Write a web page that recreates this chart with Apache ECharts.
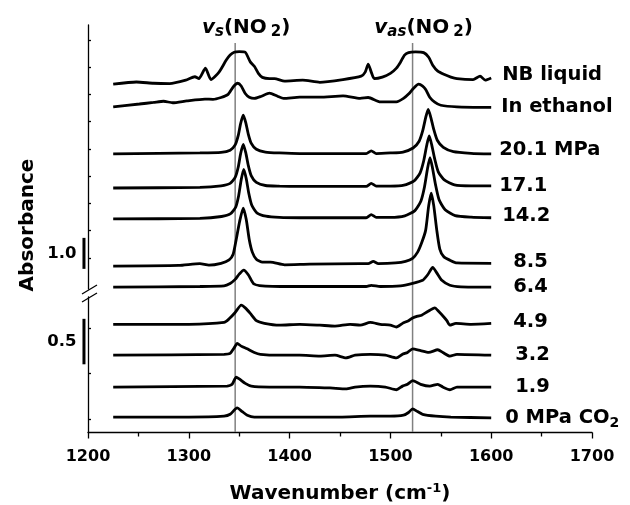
<!DOCTYPE html>
<html><head><meta charset="utf-8">
<script src="https://cdn.jsdelivr.net/npm/echarts@6/dist/echarts.min.js"></script>
<style>html,body{margin:0;padding:0;background:#fff}#c{width:630px;height:505px}</style>
</head><body><div id="c"></div>
<script>
// ---------- DATA ----------
const spectrumNames = ['NB liquid','In ethanol','20.1 MPa','17.1','14.2','8.5','6.4','4.9','3.2','1.9','0 MPa CO2'];
// vertical offsets (absorbance) of each trace in its panel
const offsets = [6.61, 5.87, 4.35, 3.26, 2.26, 0.74, 0.06, 1.19, 0.85, 0.50, 0.17];
// 0 = upper (compressed) panel, 1 = lower (expanded) panel
const panelOf = [0,0,0,0,0,0,0,1,1,1,1];
const bandPositions = [1346, 1522];
const xTickValues = [1200, 1300, 1400, 1500, 1600, 1700];
const upperTicks = [1.00,1.88,2.76,3.64,4.52,5.40,6.28,7.16,8.04];
const lowerTicks = [0.15,0.65,1.15];
const upperScaleBar = [0.65, 1.65]; // 1.0 absorbance
const lowerScaleBar = [0.75, 1.25]; // 0.5 absorbance

const nbLiquid = [[1225,0.00],[1248,0.07],[1265,0.03],[1281,0.02],[1297,0.13],[1306,0.24],[1310,0.18],[1316.5,0.52],[1322,0.15],[1330,0.39],[1337,0.77],[1341,0.94],[1345,1.03],[1350,1.05],[1356,1.03],[1361,0.72],[1365,0.58],[1369,0.35],[1373,0.22],[1380,0.18],[1385,0.18],[1395,0.10],[1413,0.13],[1430,0.06],[1453,0.15],[1471,0.26],[1475,0.39],[1478,0.65],[1481,0.39],[1484,0.18],[1492,0.23],[1500,0.35],[1506,0.52],[1510,0.71],[1514,0.94],[1518,1.02],[1525,1.04],[1533,1.02],[1538,0.87],[1542,0.61],[1547,0.42],[1553,0.32],[1560,0.23],[1566,0.18],[1582,0.15],[1589,0.26],[1594,0.13],[1600,0.20]];
const inEthanol = [[1225,0.01],[1251,0.10],[1265,0.15],[1275,0.19],[1284,0.14],[1298,0.20],[1316,0.26],[1324,0.25],[1332,0.31],[1339,0.41],[1344,0.65],[1348.5,0.77],[1352,0.68],[1356,0.44],[1360,0.32],[1365,0.28],[1372,0.35],[1380,0.45],[1388,0.35],[1394,0.28],[1410,0.32],[1430,0.32],[1453,0.36],[1470,0.28],[1478,0.31],[1490,0.17],[1506,0.17],[1513,0.28],[1518,0.42],[1523,0.61],[1528,0.74],[1532,0.68],[1535,0.57],[1539,0.32],[1544,0.16],[1550,0.06],[1566,0.01],[1600,-0.01]];
const p201 = [[1225,0.01],[1311,0.04],[1332,0.06],[1341,0.13],[1346,0.30],[1349,0.60],[1351.5,1.00],[1354,1.26],[1356.5,1.02],[1359,0.65],[1362,0.35],[1367,0.16],[1376,0.07],[1390,0.04],[1410,0.02],[1476,0.02],[1481,0.11],[1486,0.02],[1500,0.04],[1512.5,0.07],[1522.5,0.20],[1528.5,0.42],[1532,0.75],[1535,1.18],[1537.5,1.45],[1540,1.20],[1543,0.80],[1546.5,0.45],[1552.5,0.22],[1562.5,0.08],[1580,0.03],[1600,0.01]];
const p171 = [[1225,0.00],[1311,0.02],[1332,0.07],[1341,0.15],[1346,0.34],[1349,0.67],[1351.5,1.12],[1354,1.41],[1356.5,1.14],[1359,0.73],[1362,0.39],[1367,0.18],[1376,0.08],[1390,0.06],[1410,0.05],[1476,0.05],[1481,0.15],[1486,0.06],[1500,0.06],[1513.5,0.09],[1523.5,0.23],[1529.5,0.49],[1533,0.87],[1536,1.37],[1538.5,1.68],[1541,1.39],[1544,0.93],[1547.5,0.52],[1553.5,0.26],[1563.5,0.10],[1580,0.07],[1600,0.07]];
const p142 = [[1225,0.00],[1311,0.02],[1332.5,0.08],[1341.5,0.17],[1346.5,0.38],[1349.5,0.76],[1352,1.27],[1354.5,1.60],[1357,1.30],[1359.5,0.83],[1362.5,0.44],[1367.5,0.20],[1376.5,0.09],[1390,0.05],[1410,0.04],[1476,0.04],[1481,0.14],[1486,0.05],[1500,0.05],[1514.3,0.10],[1524.3,0.27],[1530.3,0.58],[1533.8,1.03],[1536.8,1.62],[1539.3,1.98],[1541.8,1.64],[1544.8,1.10],[1548.3,0.62],[1554.3,0.30],[1564.3,0.11],[1580,0.06],[1600,0.04]];
const p85 = [[1225,0.00],[1290,0.02],[1311,0.08],[1320,0.03],[1332,0.09],[1340,0.20],[1344,0.38],[1347,0.85],[1350.5,1.45],[1354,1.87],[1357,1.50],[1360,0.85],[1363,0.45],[1367,0.22],[1373,0.13],[1381,0.13],[1395,0.04],[1420,0.06],[1470,0.08],[1478,0.08],[1483,0.15],[1488,0.08],[1505,0.10],[1515,0.15],[1522,0.25],[1527,0.45],[1531,0.75],[1535,1.16],[1538,1.95],[1540.5,2.35],[1543,1.95],[1546,1.16],[1549,0.55],[1553,0.30],[1559,0.19],[1566,0.10],[1600,0.09]];
const p64 = [[1225,0.00],[1311,0.02],[1335,0.04],[1341,0.12],[1346,0.25],[1350,0.42],[1354.5,0.55],[1359,0.40],[1364,0.12],[1370,0.05],[1400,0.02],[1476,0.02],[1481,0.06],[1490,0.02],[1510,0.04],[1522,0.12],[1532,0.22],[1537,0.40],[1542,0.64],[1546,0.46],[1551,0.22],[1559,0.06],[1570,0.01],[1600,0.00]];
const p49 = [[1225,0.00],[1300,0.00],[1335,0.02],[1340,0.06],[1346,0.13],[1352,0.21],[1356,0.18],[1361,0.12],[1367,0.04],[1375,0.01],[1390,-0.01],[1410,0.00],[1430,-0.01],[1445,-0.02],[1460,0.00],[1470,-0.01],[1480,0.02],[1490,0.00],[1500,-0.01],[1506,-0.03],[1512,0.01],[1518,0.04],[1522,0.07],[1527,0.09],[1531,0.10],[1537,0.14],[1544,0.18],[1548,0.14],[1553,0.08],[1556,0.04],[1559,-0.01],[1565,0.01],[1580,0.00],[1600,0.01]];
const p32 = [[1225,0.00],[1335,0.01],[1341,0.02],[1345,0.08],[1348,0.13],[1352,0.10],[1358,0.07],[1365,0.03],[1371,0.01],[1390,0.00],[1410,0.00],[1430,-0.01],[1445,0.00],[1456,-0.03],[1465,0.00],[1480,0.01],[1495,0.00],[1506,-0.03],[1512,0.01],[1517,0.03],[1522,0.07],[1530,0.05],[1538,0.03],[1547,0.06],[1552,0.03],[1559,-0.01],[1566,0.01],[1600,0.00]];
const p19 = [[1225,0.00],[1338,0.01],[1343,0.03],[1347,0.11],[1350,0.09],[1356,0.04],[1362,0.01],[1380,0.00],[1410,0.00],[1440,-0.01],[1456,-0.02],[1465,0.00],[1480,0.01],[1495,0.00],[1506,-0.03],[1512,0.01],[1517,0.03],[1522,0.07],[1530,0.03],[1539,0.01],[1547,0.03],[1552,0.00],[1559,-0.03],[1566,0.00],[1600,0.00]];
const p0 = [[1225,0.00],[1300,0.00],[1335,0.01],[1341,0.03],[1348,0.10],[1353,0.06],[1358,0.02],[1365,0.00],[1450,0.00],[1480,0.01],[1500,0.01],[1513,0.02],[1518,0.05],[1522,0.09],[1527,0.06],[1532,0.03],[1545,0.01],[1560,0.00],[1600,-0.01]];
const spectra = [nbLiquid, inEthanol, p201, p171, p142, p85, p64, p49, p32, p19, p0];

// ---------- STYLE ----------
const FONT = '"DejaVu Sans", "Liberation Sans", Arial, sans-serif';
const labelShift = [[11,-3],[10,0],[8,-4],[8,0],[11,-2],[22,-1],[22,0],[22,-1],[24,0],[24,0],[14,0]];
const chart = echarts.init(document.getElementById('c'), null, {renderer:'canvas'});

const baseLabel = {fontFamily: FONT, fontWeight: 'bold', fontSize: 19.5, color: '#000'};
const series = spectra.map((s, i) => ({
  type: 'line', name: spectrumNames[i],
  xAxisIndex: panelOf[i], yAxisIndex: panelOf[i],
  data: s.map(p => [p[0], +(p[1] + offsets[i]).toFixed(3)]),
  symbol: 'none', showSymbol: false, smooth: 0.2, clip: false, silent: true,
  lineStyle: {color: '#000', width: 2.8}, z: 5,
  endLabel: {
    show: true, distance: 0, offset: labelShift[i],
    formatter: i === 10 ? '{b|0 MPa CO}{s|2}' : spectrumNames[i],
    align: 'left', verticalAlign: 'middle',
    ...baseLabel,
    rich: {b: {...baseLabel}, s: {...baseLabel, fontSize: 14, padding: [10,0,0,0]}}
  }
}));

// band position lines (overlay grid)
const bandLabels = ['{v|v}{vs|s}{t|(NO}{sub|2}{t|)}', '{v|v}{vs|as}{t|(NO}{sub|2}{t|)}'];
const annRich = {
  v: {fontFamily: FONT, fontWeight: 'bold', fontStyle: 'italic', fontSize: 20, color: '#000'},
  vs: {fontFamily: FONT, fontWeight: 'bold', fontStyle: 'italic', fontSize: 15, color: '#000', padding: [8,0,0,0]},
  t: {fontFamily: FONT, fontWeight: 'bold', fontSize: 20, color: '#000'},
  sub: {fontFamily: FONT, fontWeight: 'bold', fontSize: 15, color: '#000', padding: [8,0,0,4]}
};
bandPositions.forEach((b, i) => {
  series.push({
    type: 'line', xAxisIndex: 2, yAxisIndex: 2, silent: true, symbol: 'none',
    data: [[b, 0], [b, 1]], lineStyle: {color: '#808080', width: 1.5}, z: 1
  });
  series.push({
    type: 'scatter', xAxisIndex: 2, yAxisIndex: 2, silent: true, clip: false,
    symbolSize: 1, itemStyle: {color: 'rgba(0,0,0,0)', opacity: 1},
    data: [[b, 1]],
    label: {show: true, position: 'top', distance: 0, offset: [11, -3], opacity: 1,
      formatter: bandLabels[i], rich: annRich}
  });
});

// scale bars (drawn through the panel's own axes)
const scaleBars = [{panel: 0, vals: upperScaleBar, text: '1.0'}, {panel: 1, vals: lowerScaleBar, text: '0.5'}];
scaleBars.forEach(sb => {
  series.push({
    type: 'custom', xAxisIndex: sb.panel, yAxisIndex: sb.panel, silent: true, clip: false,
    data: [[1196, sb.vals[0], sb.vals[1]]],
    renderItem: (params, api) => {
      const a = api.coord([api.value(0), api.value(1)]);
      const b = api.coord([api.value(0), api.value(2)]);
      return {type: 'line', shape: {x1: a[0], y1: a[1], x2: b[0], y2: b[1]},
        style: {stroke: '#000', lineWidth: 3}};
    }
  });
  series.push({
    type: 'scatter', xAxisIndex: sb.panel, yAxisIndex: sb.panel, silent: true, clip: false,
    symbolSize: 1, itemStyle: {color: 'rgba(0,0,0,0)', opacity: 1},
    data: [[1196, (sb.vals[0] + sb.vals[1]) / 2]],
    label: {show: true, position: 'left', distance: 7, formatter: sb.text, opacity: 1,
      fontFamily: FONT, fontWeight: 'bold', fontSize: 16.5, color: '#000'}
  });
});

const axisLineStyle = {color: '#000', width: 1.3};
const option = {
  animation: false,
  backgroundColor: '#fff',
  grid: [
    {left: 88, right: 38, top: 25, bottom: 216},
    {left: 88, right: 38, top: 297, bottom: 68},
    {left: 88, right: 38, top: 43, bottom: 73}
  ],
  xAxis: [
    {gridIndex: 0, type: 'value', min: 1200, max: 1700, show: false},
    {gridIndex: 1, type: 'value', min: xTickValues[0], max: xTickValues[xTickValues.length - 1], interval: 100,
      axisLine: {show: true, lineStyle: axisLineStyle},
      axisTick: {show: true, inside: false, length: 6, lineStyle: axisLineStyle},
      minorTick: {show: true, splitNumber: 2, length: 4, lineStyle: axisLineStyle},
      splitLine: {show: false}, minorSplitLine: {show: false},
      axisLabel: {margin: 16, fontFamily: FONT, fontWeight: 'bold', fontSize: 16, color: '#000',
        formatter: v => String(v)},
      name: '{a|Wavenumber (cm}{sup|-1}{a|)}', nameLocation: 'middle', nameGap: 50,
      nameTextStyle: {rich: {
        a: {fontFamily: FONT, fontWeight: 'bold', fontSize: 20, color: '#000'},
        sup: {fontFamily: FONT, fontWeight: 'bold', fontSize: 13, color: '#000', padding: [0,0,10,0]}
      }}
    },
    {gridIndex: 2, type: 'value', min: 1200, max: 1700, show: false}
  ],
  yAxis: [
    {gridIndex: 0, type: 'value', min: 0, max: 8.52,
      axisLine: {show: true, lineStyle: axisLineStyle},
      axisTick: {show: true, inside: true, length: 3, customValues: upperTicks, lineStyle: axisLineStyle},
      axisLabel: {show: false}, splitLine: {show: false}},
    {gridIndex: 1, type: 'value', min: 0, max: 1.49,
      axisLine: {show: true, lineStyle: axisLineStyle},
      axisTick: {show: true, inside: true, length: 3, customValues: lowerTicks, lineStyle: axisLineStyle},
      axisLabel: {show: false}, splitLine: {show: false}},
    {gridIndex: 2, type: 'value', min: 0, max: 1, show: false}
  ],
  graphic: [
    {type: 'line', shape: {x1: 82, y1: 294, x2: 97, y2: 285}, style: {stroke: '#000', lineWidth: 1.3}},
    {type: 'line', shape: {x1: 82, y1: 302, x2: 97, y2: 293}, style: {stroke: '#000', lineWidth: 1.3}},
    {type: 'text', x: 28, y: 225, rotation: Math.PI / 2,
      style: {text: 'Absorbance', x: 0, y: 0, align: 'center', verticalAlign: 'middle',
        font: 'bold 20px ' + FONT, fill: '#000'}}
  ],
  series: series
};
chart.setOption(option);
</script>
</body></html>
